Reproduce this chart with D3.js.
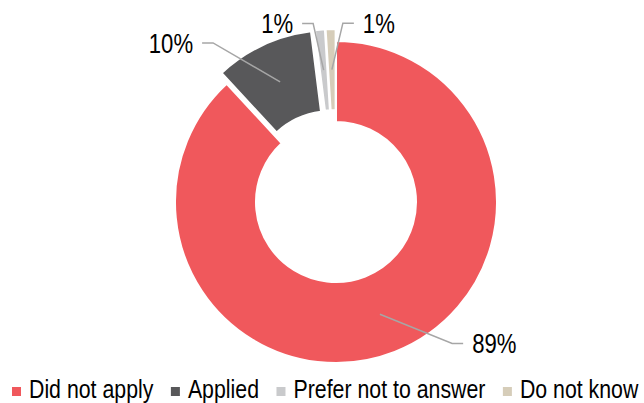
<!DOCTYPE html>
<html>
<head>
<meta charset="utf-8">
<script src="https://cdn.jsdelivr.net/npm/d3@7"></script>
<style>
  html, body { margin: 0; padding: 0; background: #fff; }
  svg { display: block; }
  text { font-family: "Liberation Sans", Arial, sans-serif; fill: #000; }
</style>
</head>
<body>
<svg id="chart" width="644" height="403"></svg>
<script>
// ---- data ----
const categories = ["Did not apply", "Applied", "Prefer not to answer", "Do not know"];
const values = [89, 10, 1, 1];
const valueLabels = ["89%", "10%", "1%", "1%"];
const colors = ["#F0585C", "#58585A", "#C9CACC", "#D6CDB9"];
const exploded = [false, true, true, true];
// leader-line elbow placement (polar: degrees clockwise from top, radius) and side
const elbowAngles = [140.6, 322.3, 352.7, 2.2];
const elbowRadii = [183, 201, 180, 179];
const labelSide = ["right", "left", "left", "right"];

// ---- layout ----
const W = 644, H = 403;
const cx = 336, cy = 202;
const outerR = 161, innerR = 80;
const explodeDist = 12;
const narrow = 0.82; // horizontal condensing to mimic a narrow face

const svg = d3.select("#chart");
const g = svg.append("g").attr("transform", `translate(${cx},${cy})`);

const pie = d3.pie().sort(null).value(d => d.value);
const data = categories.map((c, i) => ({ cat: c, value: values[i], i }));
const arcs = pie(data);
const arc = d3.arc().innerRadius(innerR).outerRadius(outerR);

function offset(a, dist) {
  const mid = (a.startAngle + a.endAngle) / 2;
  return [Math.sin(mid) * dist, -Math.cos(mid) * dist];
}

function narrowText(parent, x, y, str, size, anchor) {
  const gg = parent.append("g").attr("transform", `translate(${x},${y}) scale(${narrow},1)`);
  return gg.append("text")
    .attr("x", 0).attr("y", 0)
    .attr("text-anchor", anchor || "start")
    .attr("font-size", size)
    .text(str);
}

g.selectAll("path.slice")
  .data(arcs)
  .enter().append("path")
  .attr("class", "slice")
  .attr("d", arc)
  .attr("fill", d => colors[d.data.i])
  .attr("stroke", "#fff")
  .attr("stroke-width", 2)
  .attr("transform", d => {
    const o = exploded[d.data.i] ? offset(d, explodeDist) : [0, 0];
    return `translate(${o[0]},${o[1]})`;
  });

// leader lines + labels
arcs.forEach(d => {
  const i = d.data.i;
  const o = exploded[i] ? offset(d, explodeDist) : [0, 0];
  const c = arc.centroid(d);
  const p0 = [c[0] + o[0], c[1] + o[1]];
  const ang = elbowAngles[i] * Math.PI / 180;
  const p1 = [Math.sin(ang) * elbowRadii[i], -Math.cos(ang) * elbowRadii[i]];
  const dir = labelSide[i] === "right" ? 1 : -1;
  const p2 = [p1[0] + dir * 11, p1[1]];
  g.append("polyline")
    .attr("points", [p0, p1, p2].map(p => p.join(",")).join(" "))
    .attr("fill", "none")
    .attr("stroke", "#A6A6A6")
    .attr("stroke-width", 1.5);
  narrowText(g, p2[0] + dir * 9, p2[1] + 10, valueLabels[i], 27, dir === 1 ? "start" : "end");
});

// legend
const legend = svg.append("g").attr("transform", "translate(12,398)");
let x = 0;
categories.forEach((c, i) => {
  legend.append("rect")
    .attr("x", x).attr("y", -11)
    .attr("width", 9).attr("height", 9)
    .attr("fill", colors[i]);
  const t = narrowText(legend, x + 17, 0, c, 26, "start");
  x += 17 + t.node().getComputedTextLength() * narrow + 17.5;
});
</script>
</body>
</html>
